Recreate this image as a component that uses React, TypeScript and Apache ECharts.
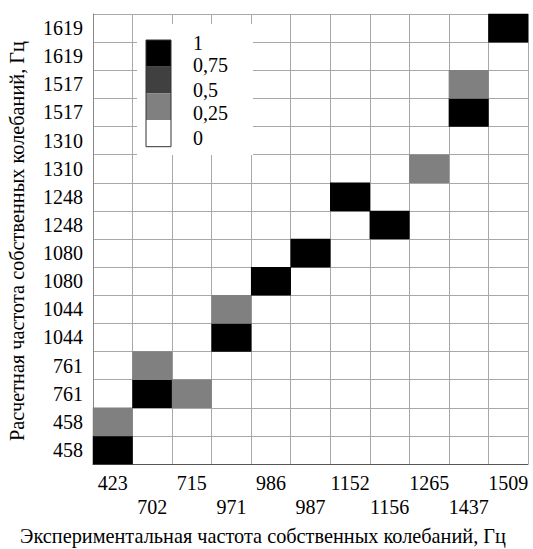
import React, { useEffect, useRef } from 'react';
import * as echarts from 'echarts';

const xLabels = ['423', '702', '715', '971', '986', '987', '1152', '1156', '1265', '1437', '1509'];
const yLabels = ['458', '458', '761', '761', '1044', '1044', '1080', '1080', '1248', '1248', '1310', '1310', '1517', '1517', '1619', '1619'];
const cellCols = [0, 0, 1, 2, 1, 3, 3, 4, 5, 7, 6, 8, 9, 9, 10];
const cellRows = [0, 1, 2, 2, 3, 4, 5, 6, 7, 8, 9, 10, 12, 13, 15];
const cellValues = [0.9, 0.4, 0.9, 0.4, 0.4, 0.9, 0.4, 0.9, 0.9, 0.9, 0.9, 0.4, 0.9, 0.4, 0.9];
const legendLabels = ['1', '0,75', '0,5', '0,25', '0'];
const legendColors = ['#000000', '#404040', '#808080', '#ffffff'];
const xTitle = 'Экспериментальная частота собственных колебаний, Гц';
const yTitle = 'Расчетная частота собственных колебаний, Гц';

const FONT = 'Liberation Serif';

export default function App() {
  const ref = useRef<HTMLDivElement>(null);
  useEffect(() => {
    document.body.style.margin = '0';
    const chart = echarts.init(ref.current!, null, { renderer: 'svg' });
    const data = cellCols.map((c, i) => [c, cellRows[i], cellValues[i]]);
    const legendY = [40, 66.7, 93.3, 120];
    const legendTextY = [43, 65, 90, 113, 138];
    const graphic: any[] = [
      { type: 'rect', shape: { x: 137, y: 24, width: 116, height: 131 }, style: { fill: '#ffffff' }, z: 100 },
    ];
    legendColors.forEach((col, i) => {
      graphic.push({ type: 'rect', shape: { x: 146, y: legendY[i], width: 25, height: 26.7 }, style: { fill: col }, z: 101 });
    });
    graphic.push({ type: 'rect', shape: { x: 146, y: 40, width: 25, height: 106.7 }, style: { fill: 'none', stroke: '#333', lineWidth: 1 }, z: 102 });
    legendLabels.forEach((t, i) => {
      graphic.push({ type: 'text', x: 193, y: legendTextY[i], style: { text: t, fontFamily: FONT, fontSize: 20, fill: '#000', verticalAlign: 'middle', align: 'left' }, z: 103 });
    });
    graphic.push({ type: 'text', x: 263, y: 536, style: { text: xTitle, fontFamily: FONT, fontSize: 20.3, fill: '#000', align: 'center', verticalAlign: 'middle' } });
    graphic.push({ type: 'text', x: 17, y: 241, rotation: Math.PI / 2, style: { text: yTitle, fontFamily: FONT, fontSize: 20.3, fill: '#000', align: 'center', verticalAlign: 'middle' } });

    chart.setOption({
      animation: false,
      grid: { left: 93, top: 14, right: 5, bottom: 85 },
      xAxis: {
        type: 'category',
        data: xLabels.map((_, i) => String(i)),
        axisLine: { show: true, lineStyle: { color: '#555', width: 1 } },
        axisTick: { show: false },
        splitLine: { show: true, interval: 0, lineStyle: { color: '#a8a8a8', width: 1 } },
        axisLabel: {
          interval: 0,
          margin: 7,
          fontFamily: FONT,
          fontSize: 20,
          color: '#000',
          lineHeight: 24,
          formatter: (_v: string, i: number) => (i % 2 === 1 ? '\n' + xLabels[i] : xLabels[i]),
        },
      },
      yAxis: {
        type: 'category',
        data: yLabels.map((_, i) => String(i)),
        axisLine: { show: true, lineStyle: { color: '#888', width: 1 } },
        axisTick: { show: false },
        splitLine: { show: true, interval: 0, lineStyle: { color: '#a8a8a8', width: 1 } },
        axisLabel: {
          interval: 0,
          margin: 10,
          fontFamily: FONT,
          fontSize: 20,
          color: '#000',
          formatter: (_v: string, i: number) => yLabels[i],
        },
      },
      visualMap: {
        show: false,
        type: 'piecewise',
        dimension: 2,
        pieces: [
          { gte: 0.75, lte: 1, color: legendColors[0] },
          { gte: 0.5, lt: 0.75, color: legendColors[1] },
          { gte: 0.25, lt: 0.5, color: legendColors[2] },
          { gte: 0, lt: 0.25, color: legendColors[3] },
        ],
      },
      graphic,
      series: [
        {
          type: 'heatmap',
          data,
          itemStyle: { borderWidth: 0 },
          emphasis: { disabled: true },
        },
      ],
    });
    return () => chart.dispose();
  }, []);
  return <div ref={ref} style={{ width: 533, height: 549 }} />;
}
